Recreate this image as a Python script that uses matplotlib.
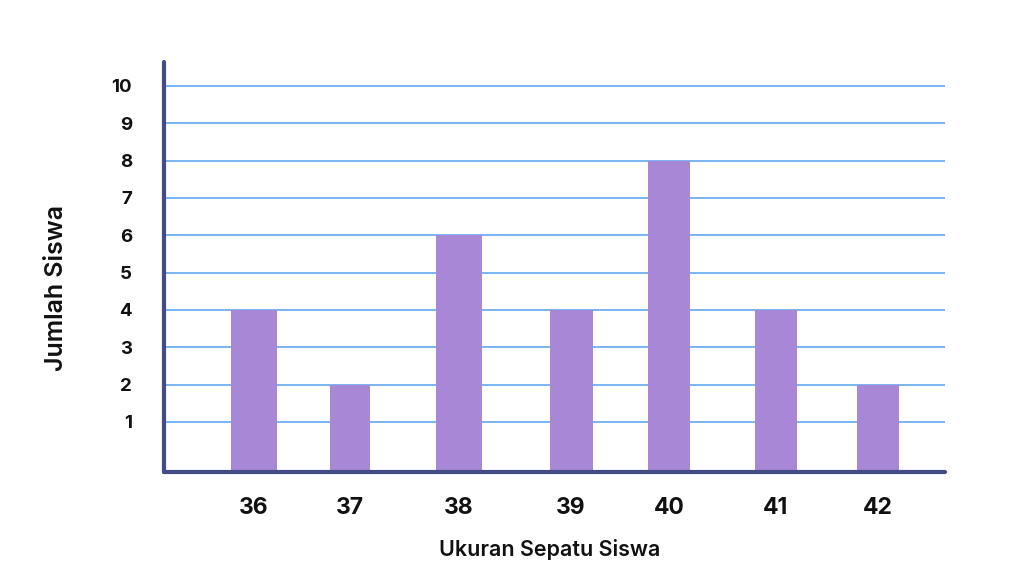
import numpy as np
import matplotlib.pyplot as plt

# data
ukuran = ["36", "37", "38", "39", "40", "41", "42"]
jumlah = [4, 2, 6, 4, 8, 4, 2]
y_ticks = [1, 2, 3, 4, 5, 6, 7, 8, 9, 10]

# layout (posisi batang dalam piksel, mengikuti gambar asli)
x_pos = [254, 350, 459, 571, 669, 776, 878]
lebar = [45, 40, 46, 43, 42, 42, 42]

W, H = 1022, 575
fig = plt.figure(figsize=(W / 100, H / 100), dpi=100)
ax = fig.add_axes([164 / W, (H - 472) / H, (945 - 164) / W, (472 - 62) / H])

y_min, y_max = -0.34, 10.64
ax.set_xlim(164, 945)
ax.set_ylim(y_min, y_max)

for y in y_ticks:
    ax.axhline(y, color="#6fb0f2", linewidth=1.3, zorder=1)

ax.bar(x_pos, np.array(jumlah) - y_min, bottom=y_min, width=lebar,
       color="#a887d7", zorder=2)

ax.set_xticks(x_pos)
ax.set_xticklabels(ukuran, fontsize=16.5, fontweight="bold", family="Inter")
ax.set_yticks(y_ticks)
ax.set_yticklabels([str(y) for y in y_ticks], fontsize=13.5, fontweight="bold", family="Inter")
ax.tick_params(axis="x", length=0, pad=18, colors="#111111")
ax.tick_params(axis="y", length=0, pad=23, colors="#111111")

for s in ["top", "right"]:
    ax.spines[s].set_visible(False)
for s in ["left", "bottom"]:
    ax.spines[s].set_color("#414c86")
    ax.spines[s].set_linewidth(3)
    ax.spines[s].set_capstyle("round")

fig.text(550 / W, 1 - 549 / H, "Ukuran Sepatu Siswa", ha="center", va="center",
         fontsize=15.5, fontweight="semibold", family="Inter", color="#111111")
fig.text(57 / W, 1 - 288 / H, "Jumlah Siswa", ha="center", va="center", rotation=90,
         fontsize=18, fontweight="semibold", family="Inter", color="#111111")

fig.savefig("out.png", dpi=100, facecolor="white")
